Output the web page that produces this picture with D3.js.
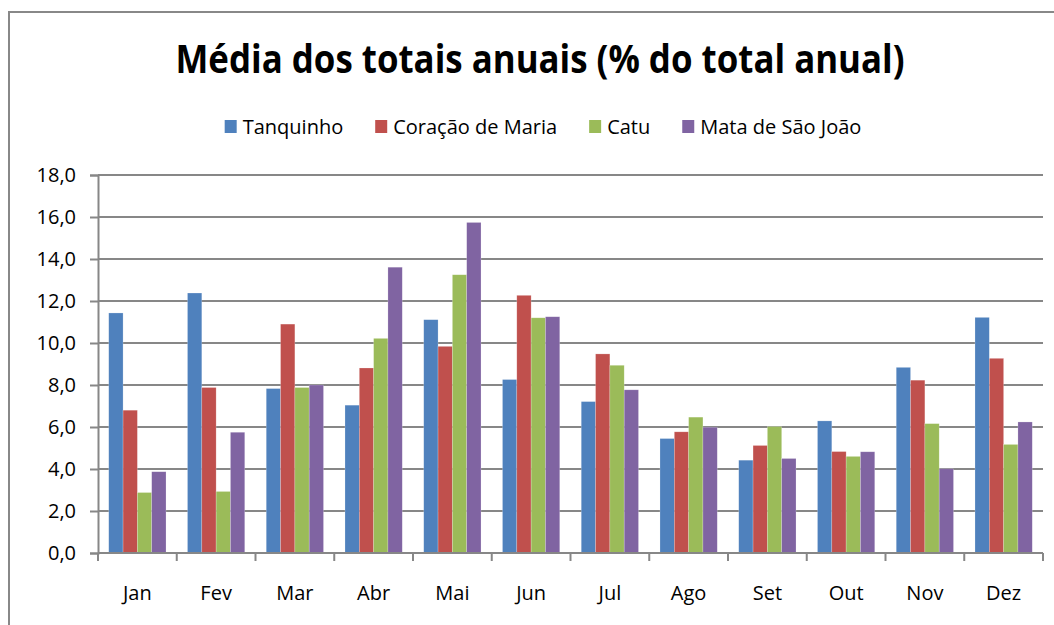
<!DOCTYPE html>
<html>
<head>
<meta charset="utf-8">
<script src="https://cdn.jsdelivr.net/npm/d3@7"></script>
<style>
  body { margin: 0; background: #fff; }
  text { font-family: "Open Sans", "Noto Sans", sans-serif; fill: #000; }
</style>
</head>
<body>
<script>
// data
var months = ["Jan","Fev","Mar","Abr","Mai","Jun","Jul","Ago","Set","Out","Nov","Dez"];
var seriesNames = ["Tanquinho","Coração de Maria","Catu","Mata de São João"];
var tanquinho = [11.43,12.38,7.83,7.04,11.11,8.26,7.21,5.45,4.42,6.29,8.84,11.22];
var coracao   = [6.80,7.88,10.90,8.81,9.84,12.27,9.48,5.77,5.12,4.83,8.23,9.27];
var catu      = [2.88,2.93,7.88,10.22,13.25,11.20,8.94,6.47,6.02,4.60,6.16,5.17];
var mata      = [3.87,5.75,8.00,13.61,15.74,11.25,7.77,5.99,4.50,4.82,4.01,6.24];
var yTicks = [0,2,4,6,8,10,12,14,16,18];

var colors = ["#4F81BD","#C0504D","#9BBB59","#8064A2"];
var allSeries = [tanquinho, coracao, catu, mata];

var W = 1054, H = 625;
var plot = {left: 98, right: 1043, top: 175, bottom: 553};

var svg = d3.select("body").append("svg").attr("width", W).attr("height", H);

// chart frame
svg.append("rect").attr("x", 9).attr("y", 12).attr("width", 1060).attr("height", 640)
   .attr("fill", "none").attr("stroke", "#888").attr("stroke-width", 2);

//title
svg.append("text").attr("x", 540).attr("y", 73).attr("text-anchor", "middle")
   .style("font-size", "39px").style("font-weight", "bold")
   .attr("textLength", 729).attr("lengthAdjust", "spacingAndGlyphs")
   .text("Média dos totais anuais (% do total anual)");

var x0 = d3.scaleBand().domain(months).range([plot.left, plot.right])
           .paddingInner(1.5/5.5).paddingOuter(0.75/5.5);
var x1 = d3.scaleBand().domain(d3.range(4)).range([0, x0.bandwidth()]);
var y = d3.scaleLinear().domain([0, 18]).range([plot.bottom, plot.top]);

// gridlines
svg.append("g").selectAll("line").data(yTicks.slice(1)).enter().append("line")
   .attr("x1", plot.left).attr("x2", plot.right)
   .attr("y1", function(d){ return y(d); }).attr("y2", function(d){ return y(d); })
   .attr("stroke", "#878787").attr("stroke-width", 2);

// bars
var groups = svg.append("g").selectAll("g").data(months).enter().append("g")
   .attr("transform", function(d){ return "translate(" + x0(d) + ",0)"; });
groups.selectAll("rect")
   .data(function(d, i){ return allSeries.map(function(s, k){ return {k: k, v: s[i]}; }); })
   .enter().append("rect")
   .attr("x", function(d){ return x1(d.k); })
   .attr("width", x1.bandwidth())
   .attr("y", function(d){ return y(d.v); })
   .attr("height", function(d){ return y(0) - y(d.v); })
   .attr("fill", function(d){ return colors[d.k]; })
   .attr("stroke", "rgba(255,255,255,0.35)").attr("stroke-width", 0.6);

// y axis
var fmt = function(d){ return d3.format(".1f")(d).replace(".", ","); };
var yAxis = svg.append("g").attr("transform", "translate(" + plot.left + ",0)")
   .call(d3.axisLeft(y).tickValues(yTicks).tickFormat(fmt).tickSize(8).tickPadding(14));
yAxis.select(".domain").attr("stroke", "#878787").attr("stroke-width", 2);
yAxis.selectAll(".tick line").attr("stroke", "#878787").attr("stroke-width", 2);
yAxis.selectAll("text").style("font-size", "20px").style("font-family", "Open Sans");

// x axis: ticks sit between categories
var xAxis = svg.append("g").attr("transform", "translate(0," + plot.bottom + ")");
xAxis.append("line").attr("x1", plot.left).attr("x2", plot.right)
   .attr("stroke", "#878787").attr("stroke-width", 2);
var step = x0.step();
xAxis.selectAll("line.tk").data(d3.range(months.length + 1)).enter().append("line")
   .attr("class", "tk")
   .attr("x1", function(i){ return plot.left + i * step; })
   .attr("x2", function(i){ return plot.left + i * step; })
   .attr("y1", 0).attr("y2", 8)
   .attr("stroke", "#878787").attr("stroke-width", 2);
xAxis.selectAll("text").data(months).enter().append("text")
   .attr("x", function(d){ return x0(d) + x0.bandwidth() / 2; })
   .attr("y", 47).attr("text-anchor", "middle")
   .style("font-size", "20px")
   .text(function(d){ return d; });

// legend, centred
var legend = svg.append("g");
var lx = 0;
seriesNames.forEach(function(name, k){
  var g = legend.append("g").attr("transform", "translate(" + lx + ",0)");
  g.append("rect").attr("x", 0).attr("y", -7).attr("width", 12).attr("height", 13).attr("fill", colors[k]);
  var t = g.append("text").attr("x", 18).attr("y", 7).style("font-size", "20px").text(name);
  lx += 18 + t.node().getComputedTextLength() + 32;
});
var lw = lx - 32;
legend.attr("transform", "translate(" + (543 - lw / 2) + ",127)");
</script>
</body>
</html>
